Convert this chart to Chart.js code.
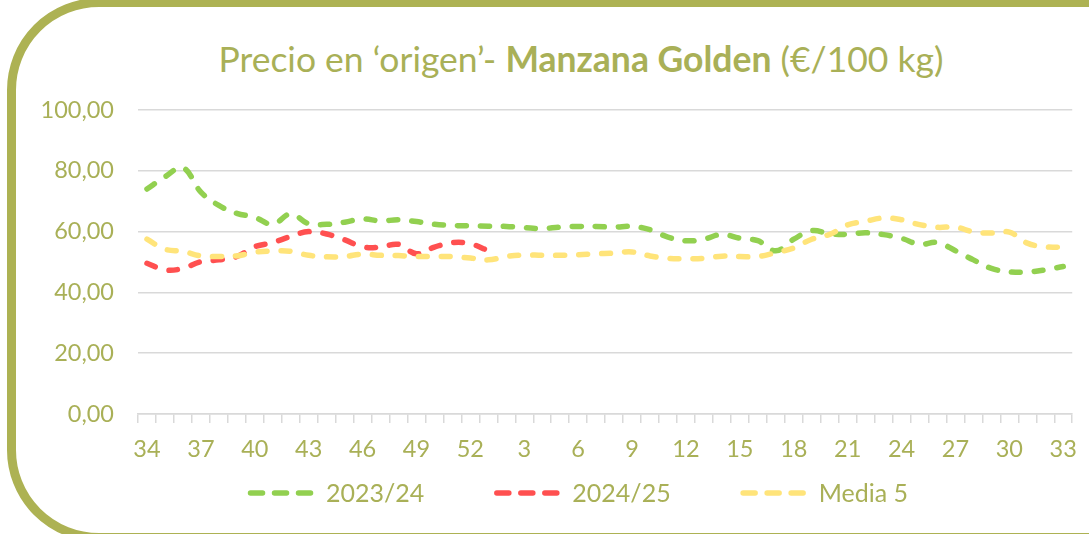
<!DOCTYPE html>
<html>
<head>
<meta charset="utf-8">
<script src="https://cdn.jsdelivr.net/npm/chart.js@4.4.1/dist/chart.umd.min.js"></script>
<style>
  html, body { margin: 0; padding: 0; background: #fff; width: 1089px; height: 534px; overflow: hidden; }
  #frame { position: absolute; left: 7px; top: -2px; width: 1300px; height: 544px; box-sizing: border-box;
           border: 9px solid #ADB253; border-radius: 92px; }
  #title { position: absolute; left: 0; top: 37px; width: 1162px; text-align: center;
           font-family: Lato, sans-serif; font-size: 35.5px; line-height: 44px; color: #A9B057; white-space: nowrap; }
  #title b { font-weight: 700; }
  #wrap { position: absolute; left: 0; top: 0; width: 1089px; height: 534px; }
</style>
</head>
<body>
<div id="frame"></div>
<div id="title">Precio en ‘origen’- <b>Manzana Golden</b> (€/100 kg)</div>
<div id="wrap"><canvas id="c" width="1089" height="534"></canvas></div>
<script>
const weeks = [34,35,36,37,38,39,40,41,42,43,44,45,46,47,48,49,50,51,52,
  1,2,3,4,5,6,7,8,9,10,11,12,13,14,15,16,17,18,19,20,21,22,23,24,25,26,27,28,29,30,31,32,33];

const serie2023 = [74,78,81,73,68.6,66,64.7,62.4,65.8,62.6,62.4,63.1,64.2,63.5,63.9,63.3,62.4,62,61.9,61.8,
  61.7,61.3,61,61.5,61.7,61.7,61.5,61.7,60.6,58.2,57,57.5,59.1,57.8,57,53.7,57.5,60.3,59.3,59.1,
  59.6,59,57.8,55.8,56.4,53.7,50.7,47.9,46.8,46.7,47.4,48.5];

const serie2024 = [49.6,47.4,47.9,50.1,50.7,51.8,55,56.4,58.4,60,59.2,57.3,55,54.9,55.8,52.7,54.9,56.4,56,53.7];

const media5 = [57.5,54.2,53.5,52,51.8,52,53.2,53.6,53.5,52.2,51.7,51.8,52.6,52.2,52.1,51.8,51.8,51.8,51.3,50.7,
  51.8,52.3,52.2,52.2,52.4,52.7,52.9,53.3,52,51.2,51.1,51.2,51.9,51.8,51.8,53.1,54.6,57.5,59.1,62.2,
  63.4,64.5,63.9,62.3,61.4,61.5,59.9,59.5,59.8,56.2,55,54.9];

const seriesNames = ['2023/24', '2024/25', 'Media 5'];
const yTicks = [0, 20, 40, 60, 80, 100];

const olive = '#A9B057';
const gridCol = '#D9D9D9';
const FONT = 'Lato, sans-serif';

const legendPlugin = {
  id: 'customLegend',
  afterDraw(chart) {
    const ctx = chart.ctx;
    const ds = chart.data.datasets;
    ctx.save();
    ctx.font = '25px ' + FONT;
    const sym = 65, gapT = 13, gapI = 70;
    const widths = ds.map(d => sym + gapT + ctx.measureText(d.label).width);
    const total = widths.reduce((a, b) => a + b, 0) + gapI * (ds.length - 1);
    let x = 578 - total / 2;
    const y = 493;
    ds.forEach((d, i) => {
      ctx.strokeStyle = d.borderColor;
      ctx.lineWidth = 5.5;
      ctx.lineCap = 'round';
      ctx.setLineDash([12, 12]);
      ctx.beginPath();
      ctx.moveTo(x + 2.5, y);
      ctx.lineTo(x + sym - 2.5, y);
      ctx.stroke();
      ctx.setLineDash([]);
      ctx.fillStyle = olive;
      ctx.textBaseline = 'middle';
      ctx.textAlign = 'left';
      ctx.fillText(d.label, x + sym + gapT, y + 1);
      x += widths[i] + gapI;
    });
    ctx.restore();
  }
};

const mk = (label, data, color, order) => ({
  label, data, borderColor: color, backgroundColor: color,
  borderWidth: 5.5, borderDash: [9, 14], borderCapStyle: 'round', borderJoinStyle: 'round',
  pointRadius: 0, tension: 0.4, fill: false, order
});

new Chart(document.getElementById('c'), {
  type: 'line',
  data: {
    labels: weeks,
    datasets: [
      mk(seriesNames[0], serie2023, '#92D050', 3),
      mk(seriesNames[1], serie2024, '#FF5050', 2),
      mk(seriesNames[2], media5, '#FFE47A', 1)
    ]
  },
  options: {
    responsive: false,
    animation: false,
    events: [],
    layout: { padding: { top: 110, right: 13, left: 0, bottom: 0 } },
    plugins: { legend: { display: false }, title: { display: false }, tooltip: { enabled: false } },
    scales: {
      x: {
        type: 'category',
        offset: true,
        afterFit(s) { s.height = 120; },
        grid: { offset: true, drawOnChartArea: false, drawTicks: true, tickLength: 9, color: gridCol, lineWidth: 1.5 },
        border: { display: true, color: gridCol, width: 1.5 },
        ticks: {
          autoSkip: false, maxRotation: 0, minRotation: 0, padding: 12,
          color: olive, font: { family: FONT, size: 23.5 },
          callback: (v, i) => (i % 3 === 0 ? String(weeks[i]) : '')
        }
      },
      y: {
        min: yTicks[0], max: yTicks[yTicks.length - 1],
        afterFit(s) { s.width = 138; },
        afterBuildTicks(s) { s.ticks = yTicks.map(v => ({ value: v })); },
        grid: { drawTicks: false, color: gridCol, lineWidth: 1.5 },
        border: { display: false },
        ticks: {
          padding: 24, color: olive, font: { family: FONT, size: 23.5 },
          callback: v => v.toFixed(2).replace('.', ',')
        }
      }
    }
  },
  plugins: [legendPlugin]
});
</script>
</body>
</html>
